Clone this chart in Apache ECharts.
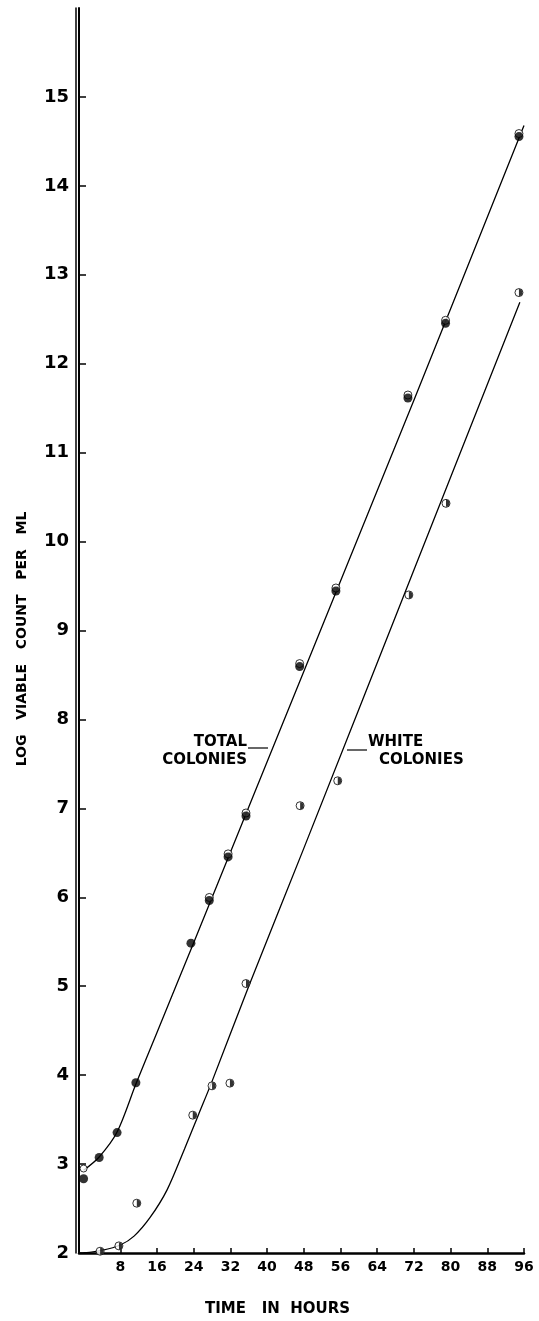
<!DOCTYPE html>
<html>
<head>
<meta charset="utf-8">
<script src="https://cdn.jsdelivr.net/npm/echarts@6/dist/echarts.min.js"></script>
<style>
html,body{margin:0;padding:0;background:#fff;}
#chart{width:539px;height:1321px;}
</style>
</head>
<body>
<div id="chart"></div>
<script>
// ---- data ----
const xTicks = [8, 16, 24, 32, 40, 48, 56, 64, 72, 80, 88, 96];
const yTicks = [2, 3, 4, 5, 6, 7, 8, 9, 10, 11, 12, 13, 14, 15];

// total colonies (observed)
const totalTime = [0, 3.4, 7.3, 11.4, 23.4, 27.4, 31.5, 35.4, 47.1, 55, 70.7, 78.9, 94.9];
const totalLog  = [2.84, 3.08, 3.36, 3.92, 5.49, 5.97, 6.46, 6.92, 8.6, 9.45, 11.62, 12.46, 14.56];
// extra open point at time zero
const totalOpenTime = [0];
const totalOpenLog  = [2.95];

// white colonies (observed)
const whiteTime = [3.6, 7.7, 11.6, 23.8, 28, 31.9, 35.4, 47.2, 55.4, 70.9, 79, 94.9];
const whiteLog  = [2.02, 2.08, 2.56, 3.55, 3.88, 3.91, 5.03, 7.03, 7.31, 9.4, 10.43, 12.8];

// fitted curves drawn through the data
const totalFitTime = [0, 3.4, 7.3, 11.4, 16, 24, 48, 72, 96];
const totalFitLog  = [2.93, 3.08, 3.36, 3.9, 4.48, 5.49, 8.54, 11.59, 14.68];
const whiteFitTime = [0, 4, 8, 11, 14.5, 18.2, 22, 25, 28, 36, 48, 72, 95.1];
const whiteFitLog  = [2.0, 2.03, 2.09, 2.19, 2.4, 2.71, 3.17, 3.55, 3.93, 5.0, 6.55, 9.68, 12.69];

// ---- build ----
const zip = (a, b) => a.map((v, i) => [v, b[i]]);
const CAP_FROM = 5; // later total points are drawn with a white cap
const FONT = '"DejaVu Sans", "Liberation Sans", sans-serif';

const chart = echarts.init(document.getElementById('chart'), null, {renderer: 'canvas'});
const option = {
  backgroundColor: '#ffffff',
  animation: false,
  grid: {left: 79, top: 8, width: 445, height: 1245, containLabel: false},
  xAxis: {
    type: 'value', min: -1, max: 96,
    axisLine: {show: true, onZero: false, lineStyle: {color: '#000', width: 2.5}},
    axisTick: {show: true, inside: true, length: 5, lineStyle: {color: '#000', width: 1.5}, customValues: xTicks},
    axisLabel: {show: true, customValues: xTicks, color: '#000', fontFamily: FONT, fontWeight: 'bold', fontSize: 14, margin: 7},
    splitLine: {show: false}
  },
  yAxis: [{
    type: 'value', min: 2, max: 16, interval: 1,
    axisLine: {show: true, onZero: false, lineStyle: {color: '#000', width: 2}},
    axisTick: {show: true, inside: true, length: 7, lineStyle: {color: '#000', width: 1.5}, customValues: yTicks},
    axisLabel: {show: true, customValues: yTicks, color: '#000', fontFamily: FONT, fontWeight: 'bold', fontSize: 18, margin: 10},
    splitLine: {show: false}
  }, {
    type: 'value', min: 2, max: 16, position: 'left', offset: 3,
    axisLine: {show: true, onZero: false, lineStyle: {color: '#000', width: 1.5}},
    axisTick: {show: false}, axisLabel: {show: false}, splitLine: {show: false}
  }],
  series: [
    {
      name: 'total fit', type: 'line', data: zip(totalFitTime, totalFitLog),
      smooth: 0.3, symbol: 'none', z: 1,
      lineStyle: {color: '#000', width: 1.3}
    },
    {
      name: 'white fit', type: 'line', data: zip(whiteFitTime, whiteFitLog),
      smooth: 0.3, symbol: 'none', z: 1,
      lineStyle: {color: '#000', width: 1.3}
    },
    {
      name: 'total cap', type: 'scatter', data: zip(totalTime, totalLog).slice(CAP_FROM),
      symbol: 'circle', symbolSize: 8, symbolOffset: [0, -2.5], z: 3,
      itemStyle: {color: '#fff', borderColor: '#000', borderWidth: 1}
    },
    {
      name: 'total', type: 'scatter', data: zip(totalTime, totalLog),
      symbol: 'circle', symbolSize: 9, symbolOffset: [0, 0.5], z: 4,
      itemStyle: {color: '#000'}
    },
    {
      name: 'total open', type: 'scatter', data: zip(totalOpenTime, totalOpenLog),
      symbol: 'circle', symbolSize: 7, z: 4,
      itemStyle: {color: '#fff', borderColor: '#000', borderWidth: 1}
    },
    {
      name: 'white', type: 'scatter', data: zip(whiteTime, whiteLog),
      symbol: 'circle', symbolSize: 8, z: 3,
      itemStyle: {color: '#fff', borderColor: '#000', borderWidth: 1}
    },
    {
      name: 'white half', type: 'scatter', data: zip(whiteTime, whiteLog),
      symbol: 'path://M0,0 A10,10 0 0,1 0,20 Z', symbolKeepAspect: true,
      symbolSize: 7, symbolOffset: [1.75, 0], z: 4,
      itemStyle: {color: '#000'}
    }
  ],
  graphic: [
    {type: 'text', x: 22, y: 639, rotation: Math.PI / 2,
     style: {text: 'LOG   VIABLE   COUNT   PER   ML', x: 0, y: 0, fill: '#000',
       font: 'bold 14px ' + FONT, textAlign: 'center', textVerticalAlign: 'middle'}},
    {type: 'text',
     style: {text: 'TIME   IN  HOURS', x: 205, y: 1309, fill: '#000',
       font: 'bold 15px ' + FONT, textAlign: 'left', textVerticalAlign: 'middle'}},
    {type: 'text',
     style: {text: 'TOTAL', x: 247, y: 742, fill: '#000',
       font: 'bold 15px ' + FONT, textAlign: 'right', textVerticalAlign: 'middle'}},
    {type: 'text',
     style: {text: 'COLONIES', x: 247, y: 760, fill: '#000',
       font: 'bold 15px ' + FONT, textAlign: 'right', textVerticalAlign: 'middle'}},
    {type: 'line', shape: {x1: 248, y1: 748, x2: 268, y2: 748}, style: {stroke: '#000', lineWidth: 1.2}},
    {type: 'text',
     style: {text: 'WHITE', x: 368, y: 742, fill: '#000',
       font: 'bold 15px ' + FONT, textAlign: 'left', textVerticalAlign: 'middle'}},
    {type: 'text',
     style: {text: 'COLONIES', x: 379, y: 760, fill: '#000',
       font: 'bold 15px ' + FONT, textAlign: 'left', textVerticalAlign: 'middle'}},
    {type: 'line', shape: {x1: 347, y1: 750, x2: 367, y2: 750}, style: {stroke: '#000', lineWidth: 1.2}}
  ]
};
chart.setOption(option);
</script>
</body>
</html>
